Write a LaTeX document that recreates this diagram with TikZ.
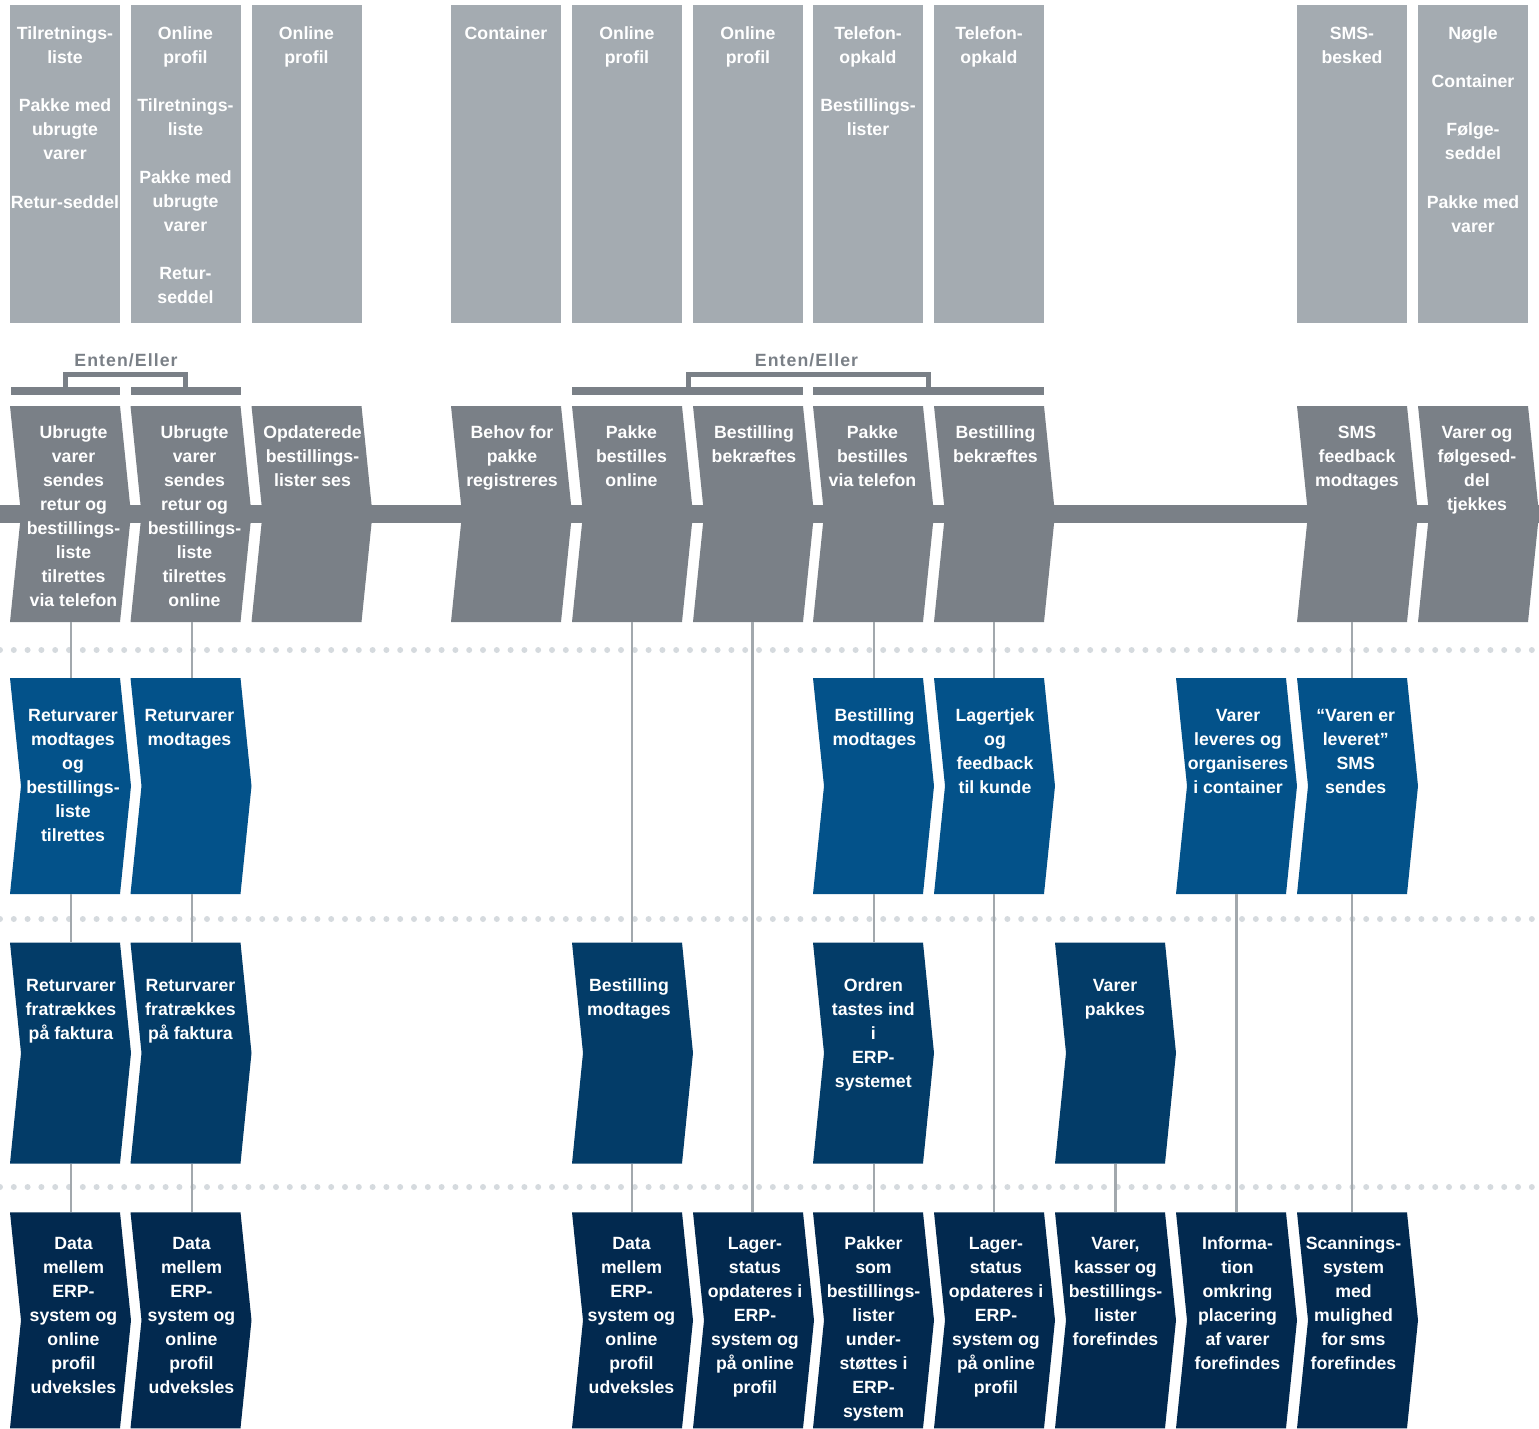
\documentclass[tikz,border=0pt]{standalone}
\usepackage{fontspec}
\setmainfont{Liberation Sans}
\definecolor{topgray}{HTML}{A4ABB1}
\definecolor{rowgray}{HTML}{7A8087}
\definecolor{blueA}{HTML}{03528A}
\definecolor{blueB}{HTML}{033C68}
\definecolor{blueC}{HTML}{02294F}
\definecolor{dotgray}{HTML}{D5DADE}
\definecolor{linegray}{HTML}{A2A8AD}

% chevron step: #1 name, #2 left x, #3 top y, #4 height, #5 colour,
% #6 x of the connector anchor, #7 text centre x, #8 first baseline y, #9 text
\newcommand\chevron[9]{%
  \fill[#5] (#2,#3) -- ++(110,0) -- ++(11,#4/2) -- ++(-11,#4/2) -- ++(-110,0) -- ++(11,-#4/2) -- cycle;
  \node[hook, minimum height=#4] (#1) at (#6,#3+#4/2) {};
  \node[txt] at (#7,#8-14) {\rule{0pt}{14pt}#9};
}
% evidence box of the top lane: #1 name, #2 left x, #3 text
\newcommand\evidence[3]{%
  \node[topbox] (#1) at (#2,5) {};
  \node[txt] at (#2+55,25) {\rule{0pt}{14pt}#3};
}

\begin{document}
\begin{tikzpicture}[x=1pt,y=-1pt,
  txt/.style={font=\fontsize{17.7}{24}\selectfont\bfseries, text=white, align=center, inner sep=0pt, anchor=north},
  hook/.style={inner sep=0pt, minimum width=0.1pt},
  topbox/.style={fill=topgray, anchor=north west, inner sep=0pt, minimum width=110pt, minimum height=318pt},
  conn/.style={draw=linegray, line width=2.4pt},
  dotline/.style={draw=dotgray, line width=6pt, line cap=round, dash pattern=on 0pt off 13.8pt},
  either/.style={font=\fontsize{17.7}{24}\selectfont\bfseries\addfontfeatures{LetterSpace=6}, text=rowgray, inner sep=0pt, anchor=base},
  bracket/.style={draw=rowgray, line width=5pt}]
\useasboundingbox (0,0) rectangle (1539,1428);

% lane separators
\draw[dotline] (0,650) -- (1539,650);
\draw[dotline] (0,919) -- (1539,919);
\draw[dotline] (0,1187) -- (1539,1187);

% top lane
\evidence{t1}{10}{Tilretnings-\\liste\\[24pt]Pakke med\\ubrugte\\varer\\[25pt]Retur-seddel}
\evidence{t2}{130.5}{Online\\profil\\[24pt]Tilretnings-\\liste\\[24pt]Pakke med\\ubrugte\\varer\\[24pt]Retur-\\seddel}
\evidence{t3}{251.5}{Online\\profil}
\evidence{t4}{451}{Container}
\evidence{t5}{572}{Online\\profil}
\evidence{t6}{693}{Online\\profil}
\evidence{t7}{813}{Telefon-\\opkald\\[24pt]Bestillings-\\lister}
\evidence{t8}{934}{Telefon-\\opkald}
\evidence{t11}{1297}{SMS-\\besked}
\evidence{t12}{1418}{Nøgle\\[24pt]Container\\[24pt]Følge-\\seddel\\[25pt]Pakke med\\varer}

% either/or brackets
\node[either] (e1) at (126,366) {Enten/Eller};
\node[either] (e2) at (806.5,366) {Enten/Eller};
\fill[rowgray] (10.5,386.7) rectangle (120,395);
\fill[rowgray] (130.5,386.7) rectangle (241,395);
\draw[bracket] (65.8,387) -- (65.8,374.8) -- (185.8,374.8) -- (185.8,387);
\fill[rowgray] (572,386.7) rectangle (803,395);
\fill[rowgray] (813,386.7) rectangle (1044,395);
\draw[bracket] (688.4,387) -- (688.4,374.8) -- (928.1,374.8) -- (928.1,387);

% customer actions with the line of interaction
\fill[rowgray] (0,505) rectangle (1539,523);
\chevron{r2c1}{10}{406}{216}{rowgray}{71}{73.5}{438.3}{Ubrugte\\varer\\sendes\\retur og\\bestillings-\\liste\\tilrettes\\via telefon}
\chevron{r2c2}{130.5}{406}{216}{rowgray}{192}{194.5}{438.3}{Ubrugte\\varer\\sendes\\retur og\\bestillings-\\liste\\tilrettes\\online}
\chevron{r2c3}{251.5}{406}{216}{rowgray}{312}{312.5}{438.3}{Opdaterede\\bestillings-\\lister ses}
\chevron{r2c4}{451}{406}{216}{rowgray}{512}{512}{438.3}{Behov for\\pakke\\registreres}
\chevron{r2c5}{572}{406}{216}{rowgray}{632}{631.5}{438.3}{Pakke\\bestilles\\online}
\chevron{r2c6}{693}{406}{216}{rowgray}{752.3}{754}{438.3}{Bestilling\\bekræftes}
\chevron{r2c7}{813}{406}{216}{rowgray}{873.7}{872.5}{438.3}{Pakke\\bestilles\\via telefon}
\chevron{r2c8}{934}{406}{216}{rowgray}{994}{995.5}{438.3}{Bestilling\\bekræftes}
\chevron{r2c11}{1297}{406}{216}{rowgray}{1351.7}{1357}{438.3}{SMS\\feedback\\modtages}
\chevron{r2c12}{1418}{406}{216}{rowgray}{1478}{1477}{438.3}{Varer og\\følgesed-\\del\\tjekkes}

% onstage actions
\chevron{r3c1}{10}{678}{216}{blueA}{71}{73}{721}{Returvarer\\modtages\\og\\bestillings-\\liste\\tilrettes}
\chevron{r3c2}{130.5}{678}{216}{blueA}{192}{189.5}{721}{Returvarer\\modtages}
\chevron{r3c7}{813}{678}{216}{blueA}{873.7}{874.5}{721}{Bestilling\\modtages}
\chevron{r3c8}{934}{678}{216}{blueA}{994}{995}{721}{Lagertjek\\og\\feedback\\til kunde}
\chevron{r3c10}{1176}{678}{216}{blueA}{1236.3}{1238}{721}{Varer\\leveres og\\organiseres\\i container}
\chevron{r3c11}{1297}{678}{216}{blueA}{1351.7}{1355.7}{721}{“Varen er\\leveret”\\SMS\\sendes}

% backstage actions
\chevron{r4c1}{10}{942.5}{221}{blueB}{71}{71}{991}{Returvarer\\fratrækkes\\på faktura}
\chevron{r4c2}{130.5}{942.5}{221}{blueB}{192}{190.5}{991}{Returvarer\\fratrækkes\\på faktura}
\chevron{r4c5}{572}{942.5}{221}{blueB}{632}{629}{991}{Bestilling\\modtages}
\chevron{r4c7}{813}{942.5}{221}{blueB}{873.7}{873.3}{991}{Ordren\\tastes ind\\i\\ERP-\\systemet}
\chevron{r4c9}{1055}{942.5}{221}{blueB}{1115.3}{1115}{991}{Varer\\pakkes}

% support processes
\chevron{r5c1}{10}{1212.3}{216}{blueC}{71}{73.5}{1249.5}{Data\\mellem\\ERP-\\system og\\online\\profil\\udveksles}
\chevron{r5c2}{130.5}{1212.3}{216}{blueC}{192}{191.5}{1249.5}{Data\\mellem\\ERP-\\system og\\online\\profil\\udveksles}
\chevron{r5c5}{572}{1212.3}{216}{blueC}{632}{631.5}{1249.5}{Data\\mellem\\ERP-\\system og\\online\\profil\\udveksles}
\chevron{r5c6}{693}{1212.3}{216}{blueC}{752.3}{755}{1249.5}{Lager-\\status\\opdateres i\\ERP-\\system og\\på online\\profil}
\chevron{r5c7}{813}{1212.3}{216}{blueC}{873.7}{873.5}{1249.5}{Pakker\\som\\bestillings-\\lister\\under-\\støttes i\\ERP-\\system}
\chevron{r5c8}{934}{1212.3}{216}{blueC}{994}{996}{1249.5}{Lager-\\status\\opdateres i\\ERP-\\system og\\på online\\profil}
\chevron{r5c9}{1055}{1212.3}{216}{blueC}{1115.3}{1115.5}{1249.5}{Varer,\\kasser og\\bestillings-\\lister\\forefindes}
\chevron{r5c10}{1176}{1212.3}{216}{blueC}{1236.3}{1237.5}{1249.5}{Informa-\\tion\\omkring\\placering\\af varer\\forefindes}
\chevron{r5c11}{1297}{1212.3}{216}{blueC}{1351.7}{1353.5}{1249.5}{Scannings-\\system\\med\\mulighed\\for sms\\forefindes}

% vertical connectors between lanes
\draw[conn] (r2c1.south) -- (r3c1.north);
\draw[conn] (r3c1.south) -- (r4c1.north);
\draw[conn] (r4c1.south) -- (r5c1.north);
\draw[conn] (r2c2.south) -- (r3c2.north);
\draw[conn] (r3c2.south) -- (r4c2.north);
\draw[conn] (r4c2.south) -- (r5c2.north);
\draw[conn] (r2c5.south) -- (r4c5.north);
\draw[conn] (r4c5.south) -- (r5c5.north);
\draw[conn] (r2c6.south) -- (r5c6.north);
\draw[conn] (r2c7.south) -- (r3c7.north);
\draw[conn] (r3c7.south) -- (r4c7.north);
\draw[conn] (r4c7.south) -- (r5c7.north);
\draw[conn] (r2c8.south) -- (r3c8.north);
\draw[conn] (r3c8.south) -- (r5c8.north);
\draw[conn] (r4c9.south) -- (r5c9.north);
\draw[conn] (r3c10.south) -- (r5c10.north);
\draw[conn] (r2c11.south) -- (r3c11.north);
\draw[conn] (r3c11.south) -- (r5c11.north);
\end{tikzpicture}
\end{document}
